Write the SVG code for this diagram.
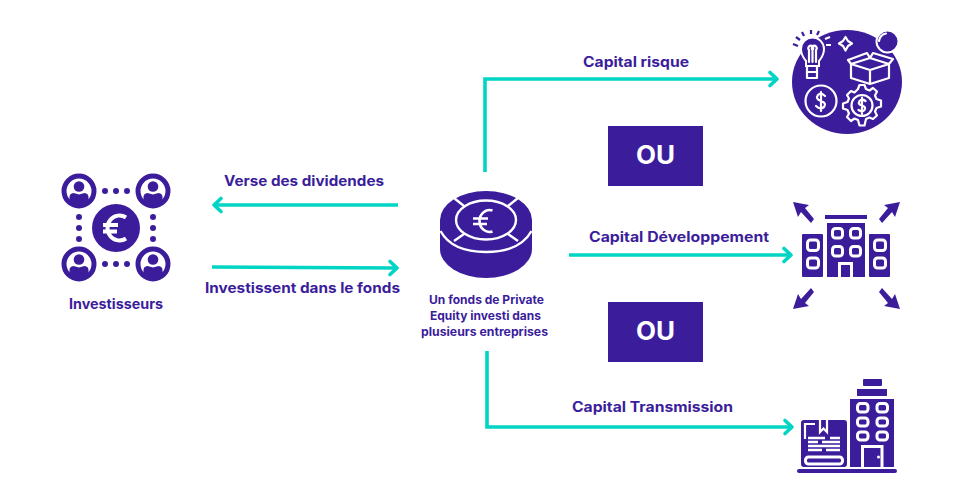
<svg xmlns="http://www.w3.org/2000/svg" width="980" height="500" viewBox="0 0 980 500">
<style>
.t{font-family:"Inter","Liberation Sans",sans-serif;font-weight:700;fill:#3b1d9c;font-size:14px}
.s{font-size:12px}
.ou{font-family:"Inter","Liberation Sans",sans-serif;font-weight:700;fill:#fff;font-size:25px;text-anchor:middle}
.c{fill:none;stroke:#00d4c4;stroke-width:3.6}
.p{fill:#3b1d9c}
.w{fill:none;stroke:#fff;stroke-width:2.2;stroke-linecap:round;stroke-linejoin:round}
.bx{fill:none;stroke:#fff;stroke-width:3}
</style>
<defs>
<marker id="a" markerUnits="userSpaceOnUse" markerWidth="16" markerHeight="18" refX="12" refY="9" orient="auto" overflow="visible">
<path d="M5 2.500L12 9L5 15.500" fill="none" stroke="#00d4c4" stroke-width="3.600" stroke-linecap="round" stroke-linejoin="round"/>
</marker>
<g id="person"><circle r="15" fill="#fff" stroke="#3b1d9c" stroke-width="5"/><circle cy="-4.500" r="5.300" class="p"/><path class="p" d="M-9.500 11V6Q-9.500 2.500-5.500 2L0 3.500L5.500 2Q9.500 2.500 9.500 6V11Q0 17-9.500 11Z"/></g>
</defs>
<g id="connectors">
<path class="c" d="M398 205H214" marker-end="url(#a)"/>
<path class="c" d="M212 267L397 268" marker-end="url(#a)"/>
<path class="c" d="M485 172V79H777" marker-end="url(#a)"/>
<path class="c" d="M569 255H791" marker-end="url(#a)"/>
<path class="c" d="M487 351V427H792" marker-end="url(#a)"/>
</g>
<g id="investisseurs">
<use href="#person" x="79" y="191"/><use href="#person" x="153" y="191"/><use href="#person" x="79" y="264"/><use href="#person" x="153" y="264"/>
<circle class="p" cx="116" cy="228" r="24"/>
<path d="M126 217.500A12 12.500 0 1 0 126 238.500M103 225H118M103 231.500H117" fill="none" stroke="#fff" stroke-width="4"/>
<g class="p"><circle cx="105" cy="191" r="3"/><circle cx="116" cy="191" r="3"/><circle cx="127" cy="191" r="3"/><circle cx="105" cy="264" r="3"/><circle cx="116" cy="264" r="3"/><circle cx="127" cy="264" r="3"/><circle cx="79" cy="217" r="3"/><circle cx="79" cy="228" r="3"/><circle cx="79" cy="239" r="3"/><circle cx="153" cy="217" r="3"/><circle cx="153" cy="228" r="3"/><circle cx="153" cy="239" r="3"/></g>
<text class="t" x="69" y="309" textLength="94" lengthAdjust="spacingAndGlyphs">Investisseurs</text>
</g>
<g id="fonds">
<path class="p" d="M440 220A46 29 0 0 1 532 220V249A46 29 0 0 1 440 249Z"/>
<path d="M440.500 231Q452 252 486 252Q520 252 531.500 231" fill="none" stroke="#fff" stroke-width="2.400"/>
<ellipse cx="486" cy="220" rx="30" ry="19.500" fill="none" stroke="#fff" stroke-width="2.400"/>
<path d="M454 198L464 206M518 198L508 206M454 241L464 234M518 241L508 234" stroke="#fff" stroke-width="2.400"/>
<path d="M492.500 210.500A10 11 0 1 0 492.500 231.500M473 218.500H488M473 224H487" fill="none" stroke="#fff" stroke-width="2.600"/>
<text class="t s" x="429" y="304" textLength="115" lengthAdjust="spacingAndGlyphs">Un fonds de Private</text>
<text class="t s" x="430" y="320" textLength="111" lengthAdjust="spacingAndGlyphs">Equity investi dans</text>
<text class="t s" x="421" y="336" textLength="127" lengthAdjust="spacingAndGlyphs">plusieurs entreprises</text>
</g>
<g id="labels">
<text class="t" x="224" y="186" textLength="160" lengthAdjust="spacingAndGlyphs">Verse des dividendes</text>
<text class="t" x="205" y="293" textLength="195" lengthAdjust="spacingAndGlyphs">Investissent dans le fonds</text>
<text class="t" x="583" y="67" textLength="106" lengthAdjust="spacingAndGlyphs">Capital risque</text>
<text class="t" x="589" y="242" textLength="180" lengthAdjust="spacingAndGlyphs">Capital Développement</text>
<text class="t" x="572" y="412" textLength="161" lengthAdjust="spacingAndGlyphs">Capital Transmission</text>
</g>
<g id="ou1"><rect class="p" x="608" y="126" width="95" height="60"/><text class="ou" x="636" y="164" style="text-anchor:start" textLength="39" lengthAdjust="spacingAndGlyphs">OU</text></g>
<g id="ou2"><rect class="p" x="608" y="302" width="95" height="60"/><text class="ou" x="636" y="340" style="text-anchor:start" textLength="39" lengthAdjust="spacingAndGlyphs">OU</text></g>
<g id="risque">
<ellipse class="p" cx="847" cy="82" rx="55" ry="52"/>
<circle cx="887.500" cy="41.500" r="11" class="p" stroke="#fff" stroke-width="2"/>
<path class="w" d="M879 41A9 9 0 0 1 886 33.500"/>
<path d="M793 44L798 46M796 37L800 40M802 32L804 36M811 30V34M819 31L817 35" stroke="#3b1d9c" stroke-width="2.200" fill="none"/>
<path d="M825 39L830 37M826 45H831" stroke="#fff" stroke-width="2" fill="none"/>
<path d="M806 66V61Q801 55 801 49A11.500 11.500 0 0 1 824 49Q824 55 819 61V66Z" class="p" stroke="#fff" stroke-width="2"/>
<path class="w" d="M809 62V50A2.500 2.500 0 1 1 812.500 50V62M812.500 50A2.500 2.500 0 1 1 816 50V62M807 66V78H817V66M807 72H817"/>
<path d="M845.500 37L848 41L852 43.500L848 46L845.500 50.500L843 46L839 43.500L843 41Z" fill="none" stroke="#fff" stroke-width="2.200" stroke-linejoin="round"/>
<path class="w" d="M851 64V78L870 84L889 78V64M870 70V84M851 64L870 70L889 64L870 58ZM848 60L867 53L870 58M848 60L851 64M889 64L893 59L873 53L870 58"/>
<circle class="w" cx="821" cy="101" r="15.500"/>
<path class="w" d="M825 96Q821 92 818 95Q815 99 821 101Q827 103 824 107Q820 110 816 106M821 92V111"/>
<path class="w" d="M858 89L859.500 85H864.500L866 89L869.500 90.500L873 88L877 91.500L875 95.500L876.500 99L881 100.500V106.500L876.500 108L875 111.500L877 115.500L873 119L869.500 117.500L866 119L864.500 125.500H859.500L858 120L854.500 118.500L851 121L847 117L849 113.500L847.500 110L843 108.500V103.500L847.500 102L849 98.500L847 95L851 91L854.500 92.500Z"/>
<circle class="w" cx="862" cy="105.500" r="10.500"/>
<path class="w" d="M865.500 101Q862 98.500 859.500 101Q857.500 104.500 862 105.500Q866.500 107 864.500 110Q862 112.500 858.500 110M862 97.500V114"/>
</g>
<g id="developpement">
<rect class="p" x="825" y="215" width="42" height="4"/>
<rect class="p" x="827" y="223" width="38" height="54"/>
<rect class="p" x="802" y="234" width="21" height="43" rx="1"/>
<rect class="p" x="869" y="234" width="21" height="43" rx="1"/>
<g class="bx"><rect x="832.500" y="228.500" width="10" height="9.500" rx="3"/><rect x="850.500" y="228.500" width="10" height="9.500" rx="3"/><rect x="832.500" y="246.500" width="10" height="9.500" rx="3"/><rect x="850.500" y="246.500" width="10" height="9.500" rx="3"/><rect x="807.500" y="240" width="11" height="10.500" rx="3"/><rect x="807.500" y="258" width="11" height="10" rx="3"/><rect x="874.500" y="240" width="11" height="10.500" rx="3"/><rect x="874.500" y="258" width="11" height="10" rx="3"/><path d="M839.500 277V263.500H851.500V277"/></g>
<g class="p"><path d="M793 202L809 205L805 208L814 219L811 223L801 212L798 217Z"/><path d="M900 202L884 205L888 208L879 219L882 223L892 212L895 217Z"/><path d="M793 309L809 306L805 303L814 292L811 288L801 299L798 294Z"/><path d="M900 309L884 306L888 303L879 292L882 288L892 299L895 294Z"/></g>
</g>
<g id="transmission">
<rect class="p" x="797" y="469" width="100" height="4" rx="2"/>
<rect class="p" x="850" y="399" width="44" height="68"/>
<rect class="p" x="857" y="389" width="30" height="7"/>
<rect class="p" x="863" y="379" width="19" height="7" rx="1"/>
<rect class="p" x="801" y="420" width="46" height="47" rx="3"/>
<g class="bx"><rect x="857.500" y="403.500" width="10.500" height="8.500" rx="3"/><rect x="877" y="403.500" width="10.500" height="8.500" rx="3"/><rect x="857.500" y="418" width="10.500" height="8" rx="3"/><rect x="877" y="418" width="10.500" height="8" rx="3"/><rect x="857.500" y="432" width="10.500" height="8" rx="3"/><rect x="877" y="432" width="10.500" height="8" rx="3"/><path d="M862.500 467V446.500H882V467"/><rect x="805.500" y="457" width="37" height="7" rx="3"/></g>
<path d="M805 439V424H815M820 420V432L823.500 428.500L827 432V420" fill="none" stroke="#fff" stroke-width="2.200"/>
<path d="M808 438H825M830 438H840M808 442H818M822 442H840M808 446H840M808 450H822M826 450H840" stroke="#fff" stroke-width="2.400" fill="none"/>
<circle cx="878.500" cy="457" r="1.500" fill="#fff"/>
</g>
</svg>
